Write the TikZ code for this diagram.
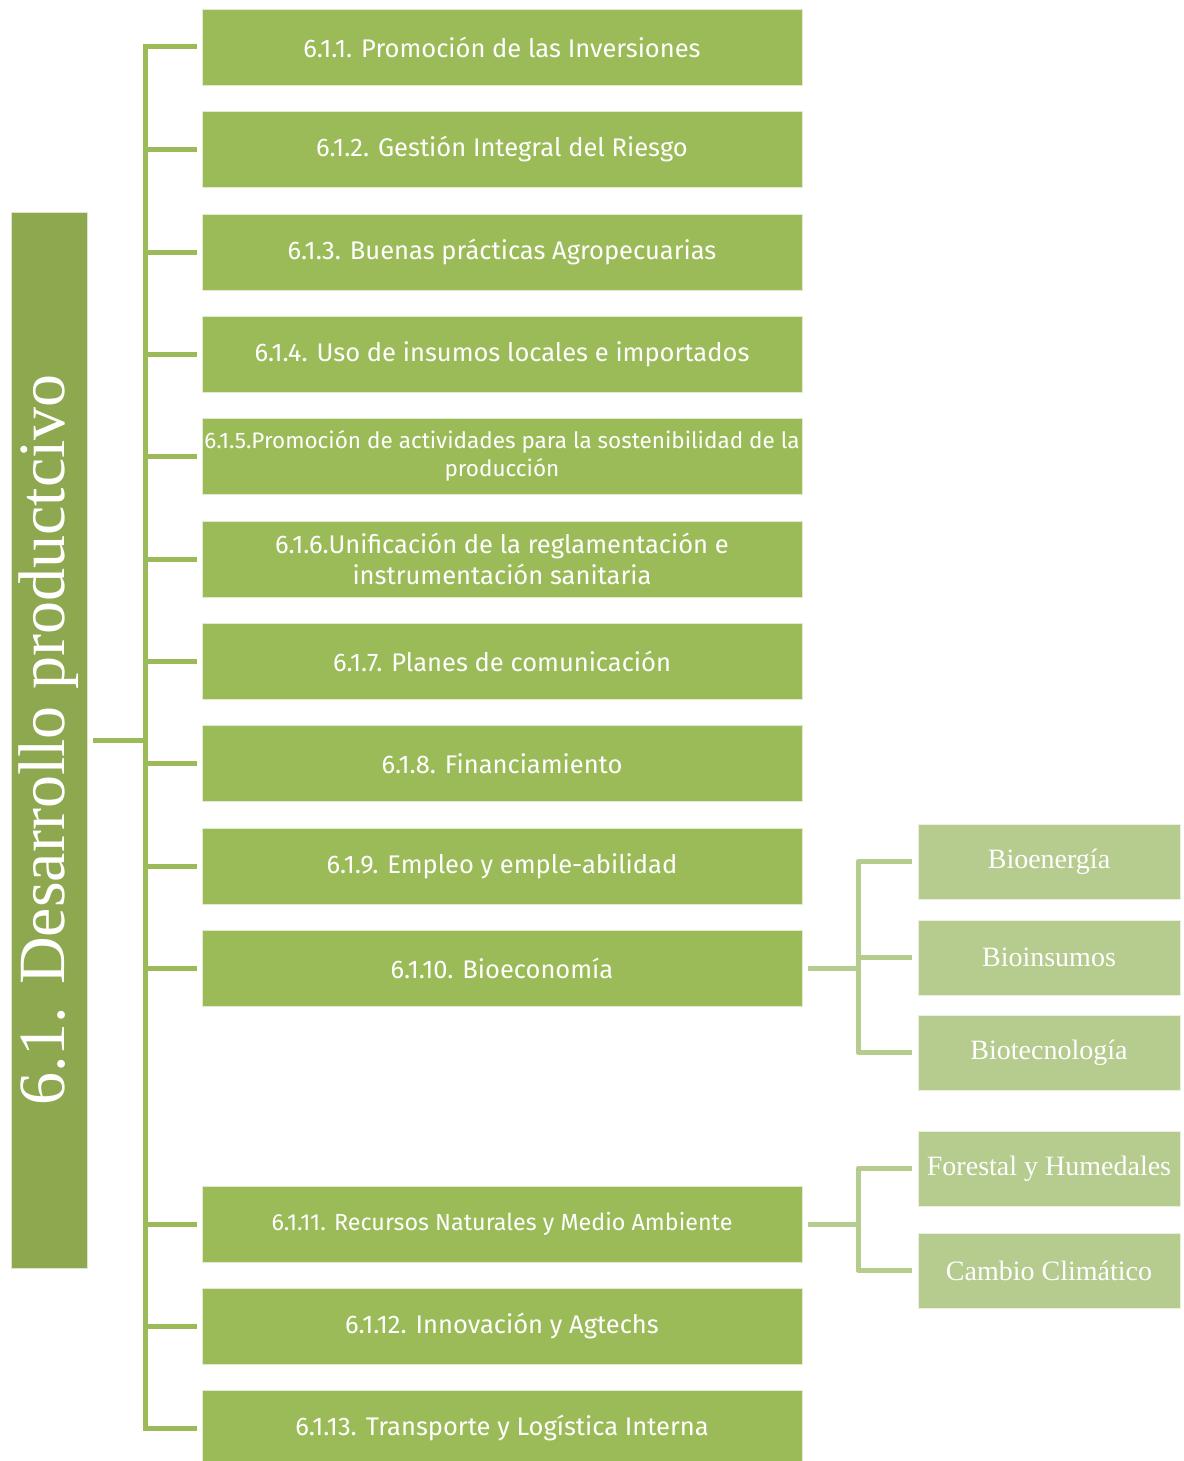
\documentclass[tikz,border=0pt]{standalone}
\usepackage{fontspec}
\setmainfont{Liberation Serif}
\newfontfamily\boxfont{Fira Sans}
\definecolor{gmain}{HTML}{9BBB59}
\definecolor{gbar}{HTML}{8EA84F}
\definecolor{glight}{HTML}{B6CC8F}
\tikzset{
  itembox/.style={fill=gmain, draw=white!70!gmain, line width=0.8pt, minimum width=600pt, minimum height=76pt, inner sep=0pt, text=white, font=\boxfont\fontsize{25.5}{30}\selectfont, align=center},
  subbox/.style={fill=glight, draw=white!70!glight, line width=0.8pt, minimum width=262pt, minimum height=75pt, inner sep=0pt, text=white, font=\fontsize{28}{32}\selectfont, align=center},
  conn/.style={draw=gmain, line width=5pt},
  subconn/.style={draw=glight, line width=5pt},
}
\begin{document}
\begin{tikzpicture}[x=1pt,y=-1pt]
\useasboundingbox (0,0) rectangle (1183,1461);
% main bar
\node[fill=gbar, draw=white!70!gbar, line width=0.8pt, rotate=90, minimum width=1056pt, minimum height=76pt, inner sep=0pt, text=white, font=\fontsize{66}{70}\selectfont] (bar) at (49,740) {6.1. Desarrollo productcivo};
% items
\node[itembox] (b1) at (502,47) {6.1.1. Promoción de las Inversiones};
\node[itembox] (b2) at (502,149) {6.1.2. Gestión Integral del Riesgo};
\node[itembox] (b3) at (502,252) {6.1.3. Buenas prácticas Agropecuarias};
\node[itembox] (b4) at (502,354) {6.1.4. Uso de insumos locales e importados};
\node[itembox, font=\boxfont\fontsize{22.5}{28}\selectfont] (b5) at (502,456) {6.1.5.Promoción de actividades para la sostenibilidad de la\\producción};
\node[itembox, font=\boxfont\fontsize{25.5}{31}\selectfont] (b6) at (502,559) {6.1.6.Unificación de la reglamentación e\\instrumentación sanitaria};
\node[itembox] (b7) at (502,661) {6.1.7. Planes de comunicación};
\node[itembox] (b8) at (502,763.5) {6.1.8. Financiamiento};
\node[itembox] (b9) at (502,866) {6.1.9. Empleo y emple-abilidad};
\node[itembox] (b10) at (502,968) {6.1.10. Bioeconomía};
\node[itembox, font=\boxfont\fontsize{23.3}{28}\selectfont] (b11) at (502,1224) {6.1.11. Recursos Naturales y Medio Ambiente};
\node[itembox] (b12) at (502,1326) {6.1.12. Innovación y Agtechs};
\node[itembox, minimum height=76pt] (b13) at (502,1428) {6.1.13. Transporte y Logística Interna};
% sub boxes
\node[subbox] (s1) at (1049,861.5) {Bioenergía};
\node[subbox] (s2) at (1049,957.5) {Bioinsumos};
\node[subbox] (s3) at (1049,1052.5) {Biotecnología};
\node[subbox] (s4) at (1049,1168.5) {Forestal y Humedales};
\node[subbox] (s5) at (1049,1270.5) {Cambio Climático};
% trunk
\coordinate (ttop) at (145,47);
\coordinate (tbot) at (145,1428);
\coordinate (barout) at (93,740);
\draw[conn, line cap=rect] (ttop) -- (tbot);
\draw[conn] (barout) -- (ttop |- barout);
\foreach \b in {b1,b2,b3,b4,b5,b6,b7,b8,b9,b10,b11,b12,b13}{
  \draw[conn] (ttop |- \b.west) -- ([xshift=-5pt]\b.west);
}
% sub trunks
\coordinate (j1) at (858,968);
\draw[subconn] ([xshift=6pt]b10.east) -- (j1);
\draw[subconn, line join=round] ([xshift=-6pt]s1.west) -- (j1 |- s1.west) -- (j1 |- s3.west) -- ([xshift=-6pt]s3.west);
\draw[subconn] (j1 |- s2.west) -- ([xshift=-6pt]s2.west);
\coordinate (j2) at (858,1224);
\draw[subconn] ([xshift=6pt]b11.east) -- (j2);
\draw[subconn, line join=round] ([xshift=-6pt]s4.west) -- (j2 |- s4.west) -- (j2 |- s5.west) -- ([xshift=-6pt]s5.west);
\end{tikzpicture}
\end{document}
